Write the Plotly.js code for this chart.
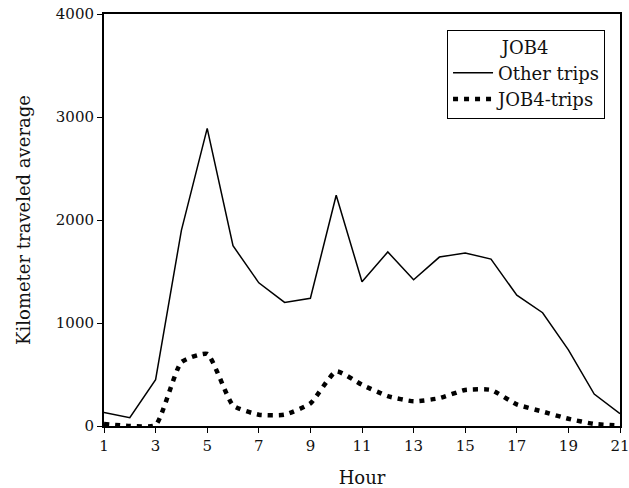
<!DOCTYPE html>
<html>
<head>
<meta charset="utf-8">
<script src="https://cdn.plot.ly/plotly-3.0.1.min.js"></script>
<style>html,body{margin:0;padding:0;background:#fff;}#chart{width:629px;height:488px;}</style>
</head>
<body>
<div id="chart"></div>
<script>
const hours = [1,2,3,4,5,6,7,8,9,10,11,12,13,14,15,16,17,18,19,20,21];
const otherTrips = [130,80,450,1900,2890,1750,1390,1200,1240,2240,1400,1690,1420,1640,1680,1620,1270,1100,740,310,120];
const job4Trips = [20,0,10,620,700,200,110,110,220,530,400,290,240,270,350,350,210,140,70,20,5];
const xTicks = [1,3,5,7,9,11,13,15,17,19,21];
const yTicks = [0,1000,2000,3000,4000];

const tickFont = {family: 'DejaVu Serif, serif', size: 15, color: '#111'};
const bigFont = {family: 'DejaVu Serif, serif', size: 18, color: '#111'};

const traces = [
  {x: hours, y: otherTrips, name: 'Other trips', mode: 'lines', type: 'scatter',
   line: {color: '#000', width: 1.5}},
  {x: hours, y: job4Trips, name: 'JOB4-trips', mode: 'lines', type: 'scatter',
   line: {color: '#000', width: 4.5, dash: '5px,6px', shape: 'spline', smoothing: 0.5}}
];

const layout = {
  width: 629, height: 488,
  margin: {l: 104, r: 9, t: 14, b: 62},
  paper_bgcolor: '#fff', plot_bgcolor: '#fff',
  font: tickFont,
  showlegend: true,
  legend: {
    x: 0.971, y: 0.961, xanchor: 'right', yanchor: 'top',
    bordercolor: '#000', borderwidth: 1, bgcolor: '#fff',
    title: {text: 'JOB4', side: 'top center', font: bigFont},
    font: bigFont, tracegroupgap: 0, itemwidth: 40
  },
  xaxis: {
    range: [1, 21], tickvals: xTicks, ticktext: xTicks.map(String),
    showgrid: false, zeroline: false, showline: true, mirror: true,
    linecolor: '#000', linewidth: 2, ticks: 'outside', ticklen: 5, tickcolor: '#000',
    tickfont: tickFont, ticklabeloverflow: 'allow',
    title: {text: 'Hour', font: bigFont, standoff: 18}
  },
  yaxis: {
    range: [0, 4000], tickvals: yTicks, ticktext: yTicks.map(String),
    showgrid: false, zeroline: false, showline: true, mirror: true,
    linecolor: '#000', linewidth: 2, ticks: 'outside', ticklen: 5, tickcolor: '#000',
    tickfont: tickFont,
    title: {text: 'Kilometer traveled average', font: bigFont, standoff: 21}
  }
};

Plotly.newPlot('chart', traces, layout, {displayModeBar: false, staticPlot: true});
</script>
</body>
</html>
